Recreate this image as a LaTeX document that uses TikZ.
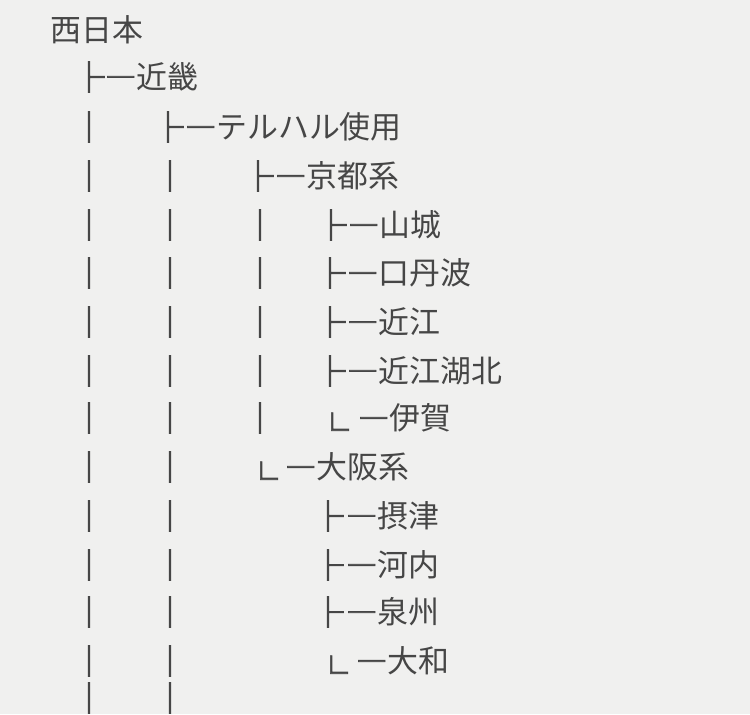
\documentclass[tikz,border=0pt]{standalone}
\usepackage{fontspec}
\setmainfont{Noto Sans CJK JP}
\newfontfamily\treefont[FakeBold=2.5]{Noto Sans CJK JP}
\definecolor{paper}{RGB}{240,240,239}
\definecolor{ink}{RGB}{70,70,70}
\newcommand{\dash}{{\treefont ―}}
\begin{document}
\begin{tikzpicture}[x=0.02cm,y=-0.02cm]
        % Text styles
        \tikzset{
            label/.style={anchor=west, inner sep=0pt, text=ink, font=\fontsize{17.6}{20}\selectfont},
            branch/.style={anchor=center, inner sep=0pt, text=ink, font=\fontsize{17.6}{20}\selectfont\treefont},
            corner/.style={anchor=base west, inner sep=0pt, text=ink, font=\fontsize{14}{16}\selectfont\treefont}
        }
        \useasboundingbox (0,0) rectangle (750,714);
        \clip (0,0) rectangle (750,714);
        \fill[paper] (0,0) rectangle (750,714);

        % ==========================================
        % Tree rows
        % ==========================================
        \node[label] (nishinihon) at (50,30) {西日本};

        \node[branch] (kinki-b) at (89,77) {├};
        \node[label] (kinki) at (105,77) {\dash 近畿};

        \node[branch] (teruharu-b) at (168,127) {├};
        \node[label] (teruharu) at (185,127) {\dash テルハル使用};

        \node[branch] (kyoto-b) at (258,176) {├};
        \node[label] (kyoto) at (275,176) {\dash 京都系};

        \node[branch] (yamashiro-b) at (331,225) {├};
        \node[label] (yamashiro) at (348,225) {\dash 山城};
        \node[branch] (kuchitanba-b) at (330,273) {├};
        \node[label] (kuchitanba) at (347,273) {\dash 口丹波};
        \node[branch] (omi-b) at (330,322) {├};
        \node[label] (omi) at (347,322) {\dash 近江};
        \node[branch] (omikohoku-b) at (330,371) {├};
        \node[label] (omikohoku) at (347,371) {\dash 近江湖北};
        \node[corner] (iga-b) at (327,431) {∟};
        \node[label] (iga) at (358,418) {\dash 伊賀};

        \node[corner] (osaka-b) at (256,480) {∟};
        \node[label] (osaka) at (285,467) {\dash 大阪系};

        \node[branch] (settsu-b) at (328,516) {├};
        \node[label] (settsu) at (346,516) {\dash 摂津};
        \node[branch] (kawachi-b) at (328,565) {├};
        \node[label] (kawachi) at (346,565) {\dash 河内};
        \node[branch] (senshu-b) at (328,612) {├};
        \node[label] (senshu) at (346,612) {\dash 泉州};
        \node[corner] (yamato-b) at (326,674) {∟};
        \node[label] (yamato) at (356,661) {\dash 大和};

        % Vertical bars
        \foreach \y in {127,176,225,273,322,371,418,467,516,565,612,661,698} {
            \node[branch] at (89,\y) {│};
        }
        \foreach \y in {176,225,273,322,371,418,467,516,565,612,661,698} {
            \node[branch] at (170,\y) {│};
        }
        \foreach \y in {225,273,322,371,418} {
            \node[branch] at (260,\y) {│};
        }
\end{tikzpicture}
\end{document}
